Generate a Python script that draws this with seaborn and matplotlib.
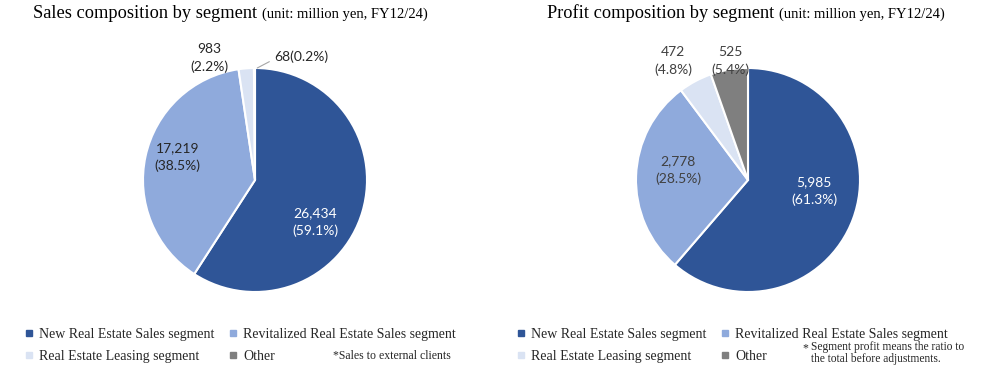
import matplotlib
matplotlib.use("Agg")
import matplotlib.pyplot as plt
from matplotlib.lines import Line2D
import seaborn as sns

# ---------- data ----------
segments = ["New Real Estate Sales segment", "Revitalized Real Estate Sales segment",
            "Real Estate Leasing segment", "Other"]
sales = [26434, 17219, 983, 68]
sales_pct = [59.1, 38.5, 2.2, 0.2]
profit = [5985, 2778, 472, 525]
profit_pct = [61.3, 28.5, 4.8, 5.4]

colors = ["#2F5597", "#8FAADC", "#DAE3F3", "#7F7F7F"]

sns.set_theme(style="white")
plt.rcParams["font.family"] = ["Lato", "DejaVu Sans"]

W, H = 984, 369
fig = plt.figure(figsize=(W / 100, H / 100), dpi=100)
R = 112  # pie radius in px


def pie_axes(cx, cy):
    half = R * 1.5
    return fig.add_axes([(cx - half) / W, (H - cy - half) / H, 2 * half / W, 2 * half / H])


def draw_pie(ax, values, pcts, label_pos, label_colors, leader=None):
    wedges, _ = ax.pie(values, colors=colors, startangle=90, counterclock=False,
                       wedgeprops=dict(edgecolor="white", linewidth=1.5))
    ax.set_xlim(-1.5, 1.5)
    ax.set_ylim(-1.5, 1.5)
    ax.set_aspect("equal")
    ax.axis("off")
    for i, (v, p) in enumerate(zip(values, pcts)):
        x, y = label_pos[i]
        if leader is not None and i == leader:
            ax.annotate(f"{v:,}({p}%)", xy=(0.02, 1.0), xytext=(x, y),
                        ha="center", va="center", fontsize=10, color=label_colors[i],
                        arrowprops=dict(arrowstyle="-", color="#A6A6A6", lw=0.8,
                                        relpos=(0, 0.3), shrinkA=1, shrinkB=0))
        else:
            ax.text(x, y, f"{v:,}\n({p}%)", ha="center", va="center", fontsize=10,
                    color=label_colors[i], linespacing=1.5)


ax1 = pie_axes(255, 180)
draw_pie(ax1, sales, sales_pct,
         [(0.54, -0.375), (-0.69, 0.205), (-0.41, 1.09), (0.41, 1.10)],
         ["white", "#262626", "#262626", "#262626"], leader=3)

ax2 = pie_axes(748, 180)
draw_pie(ax2, profit, profit_pct,
         [(0.59, -0.10), (-0.625, 0.09), (-0.67, 1.06), (-0.16, 1.06)],
         ["white", "#404040", "#404040", "#404040"])

# ---------- titles ----------
serif = ["Liberation Serif", "DejaVu Serif"]
fig.canvas.draw()
renderer = fig.canvas.get_renderer()
for x0, main in [(33, "Sales composition by segment "), (547, "Profit composition by segment ")]:
    t = fig.text(x0 / W, 1 - 18 / H, main, fontsize=13.2, family=serif,
                 color="black", va="baseline")
    bb = t.get_window_extent(renderer)
    fig.text(bb.x1 / W, 1 - 18 / H, "(unit: million yen, FY12/24)", fontsize=10.5,
             family=serif, color="black", va="baseline")

# ---------- legends ----------
order = [0, 2, 1, 3]
handles = [Line2D([], [], marker="s", linestyle="none", markersize=4.5,
                  markerfacecolor=colors[i], markeredgecolor=colors[i]) for i in order]
labels = [segments[i] for i in order]

for x0 in [26, 518]:
    fig.legend(handles, labels, ncol=2, loc="upper left",
               bbox_to_anchor=(x0 / W, 1 - 328 / H), frameon=False,
               prop=dict(family=serif, size=10), labelcolor="#262626",
               handlelength=0.5, handletextpad=0.45, columnspacing=1.1,
               labelspacing=0.62, borderaxespad=0, borderpad=0)

fig.text(333 / W, 1 - 356 / H, "*Sales to external clients", fontsize=8.5,
         family=serif, color="#262626", va="center")
fig.text(802 / W, 1 - 348 / H, "*", fontsize=8.5, family=serif, color="#262626",
         va="center")
fig.text(811 / W, 1 - 353 / H, "Segment profit means the ratio to\nthe total before adjustments.",
         fontsize=8.3, family=serif, color="#262626", va="center", linespacing=0.9)

fig.savefig("out.png", dpi=100, facecolor="white")
